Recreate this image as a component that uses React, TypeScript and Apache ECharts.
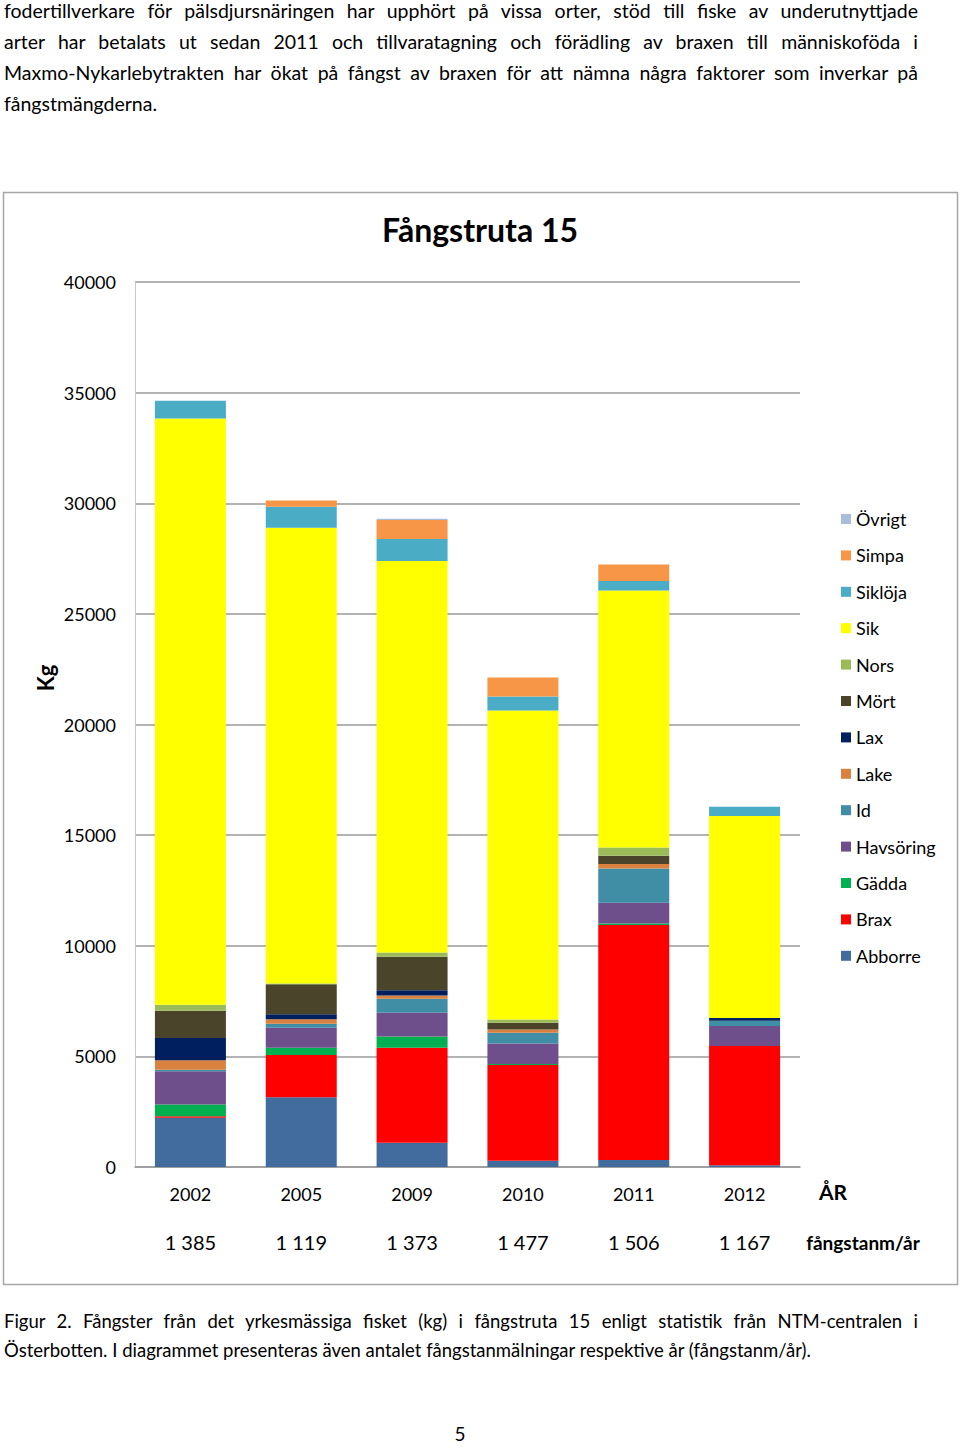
import React, { useEffect, useRef } from "react";
import * as echarts from "echarts";

const years = ["2002", "2005", "2009", "2010", "2011", "2012"];
const reports = ["1 385", "1 119", "1 373", "1 477", "1 506", "1 167"];
const yTicks = { min: 0, max: 40000, interval: 5000 };

const species = ["Abborre", "Brax", "Gädda", "Havsöring", "Id", "Lake", "Lax", "Mört", "Nors", "Sik", "Siklöja", "Simpa", "Övrigt"];
const colors = ["#426C9E", "#FF0000", "#00B050", "#6E4F8B", "#3F8EA6", "#D9813F", "#001F5E", "#4A442B", "#9BBB59", "#FFFF00", "#4BACC6", "#F79646", "#A9BCD9"];

const abborre = [2230, 3150, 1100, 285, 315, 75];
const brax = [60, 1910, 4290, 4325, 10620, 5390];
const gadda = [540, 330, 510, 40, 75, 0];
const havsoring = [1500, 900, 1070, 935, 935, 905];
const id = [60, 180, 630, 480, 1550, 240];
const lake = [430, 210, 150, 150, 195, 0];
const lax = [1010, 225, 240, 0, 0, 120];
const mort = [1235, 1355, 1510, 300, 375, 0];
const nors = [270, 30, 200, 150, 375, 0];
const sik = [26490, 20600, 17690, 13970, 11615, 9130];
const sikloja = [810, 950, 995, 630, 435, 420];
const simpa = [0, 285, 860, 860, 740, 0];
const ovrigt = [0, 0, 60, 0, 0, 0];

const seriesData = [abborre, brax, gadda, havsoring, id, lake, lax, mort, nors, sik, sikloja, simpa, ovrigt];

const paragraph = [
  "fodertillverkare för pälsdjursnäringen har upphört på vissa orter, stöd till fiske av underutnyttjade",
  "arter har betalats ut sedan 2011 och tillvaratagning och förädling av braxen till människoföda i",
  "Maxmo-Nykarlebytrakten har ökat på fångst av braxen för att nämna några faktorer som inverkar på",
  "fångstmängderna.",
];
const caption = [
  "Figur 2. Fångster från det yrkesmässiga fisket (kg) i fångstruta 15 enligt statistik från NTM-centralen i",
  "Österbotten. I diagrammet presenteras även antalet fångstanmälningar respektive år (fångstanm/år).",
];

const FONT = "Lato, 'Open Sans', sans-serif";

export default function App() {
  const ref = useRef<HTMLDivElement>(null);
  useEffect(() => {
    if (!ref.current) return;
    const chart = echarts.init(ref.current, null, { renderer: "svg" });
    chart.setOption({
      animation: false,
      textStyle: { fontFamily: FONT, color: "#000" },
      title: {
        text: "Fångstruta 15",
        left: "center",
        top: 208,
        textStyle: { fontFamily: FONT, fontSize: 32, fontWeight: "bold", color: "#000" },
      },
      legend: {
        orient: "vertical",
        left: 836,
        top: 505,
        icon: "rect",
        itemWidth: 10,
        itemHeight: 10,
        itemGap: 18.4,
        data: species.slice().reverse(),
        textStyle: { fontFamily: FONT, fontSize: 18, color: "#000" },
      },
      grid: { left: 135, top: 282, width: 665, height: 885 },
      xAxis: [
        {
          type: "category",
          data: years,
          axisLine: { lineStyle: { color: "#9a9a9a", width: 1.5 } },
          axisTick: { show: false },
          axisLabel: { margin: 18, fontSize: 18, color: "#000", fontFamily: FONT },
        },
        {
          type: "category",
          data: reports,
          position: "bottom",
          axisLine: { show: false },
          axisTick: { show: false },
          axisLabel: { margin: 65, fontSize: 20, color: "#000", fontFamily: FONT },
        },
      ],
      yAxis: {
        type: "value",
        min: yTicks.min,
        max: yTicks.max,
        interval: yTicks.interval,
        axisLine: { show: true, lineStyle: { color: "#c8c8c8", width: 1 } },
        axisTick: { show: false },
        splitLine: { lineStyle: { color: "#9a9a9a", width: 1.5 } },
        axisLabel: {
          margin: 19,
          fontSize: 18,
          color: "#000",
          fontFamily: FONT,
          formatter: (v: number) => String(v),
        },
      },
      series: species.map((name, i) => ({
        name,
        type: "bar",
        stack: "total",
        barWidth: 71,
        data: seriesData[i],
        itemStyle: { color: colors[i] },
      })),
      graphic: [
        {
          type: "rect",
          shape: { x: 3.5, y: 192.5, width: 954, height: 1092 },
          style: { fill: "none", stroke: "#a6a6a6", lineWidth: 1.5 },
          silent: true,
        },
        {
          type: "text",
          x: 45,
          y: 678,
          rotation: Math.PI / 2,
          style: {
            text: "Kg",
            font: `bold 22px ${FONT}`,
            fill: "#000",
            align: "center",
            verticalAlign: "middle",
          },
        },
        {
          type: "text",
          x: 833,
          y: 1191,
          style: {
            text: "ÅR",
            font: `bold 21px ${FONT}`,
            fill: "#000",
            align: "center",
            verticalAlign: "middle",
          },
        },
        {
          type: "text",
          x: 863,
          y: 1242,
          style: {
            text: "fångstanm/år",
            font: `bold 19px ${FONT}`,
            fill: "#000",
            align: "center",
            verticalAlign: "middle",
          },
        },
      ],
    });
    return () => chart.dispose();
  }, []);

  const lineStyle = (last: boolean): React.CSSProperties => ({
    textAlign: last ? "left" : "justify",
    textAlignLast: last ? "left" : "justify",
    height: 31,
    whiteSpace: "nowrap",
  });

  return (
    <div style={{ position: "absolute", left: 0, top: 0, width: 960, height: 1448, background: "#fff", overflow: "hidden" }}>
      <div ref={ref} style={{ position: "absolute", left: 0, top: 0, width: 960, height: 1448 }} />
      <div style={{ position: "absolute", left: 4, top: -5, width: 914, fontFamily: FONT, fontSize: 19.5, lineHeight: "31px", color: "#000" }}>
        {paragraph.map((l, i) => (
          <div key={i} style={lineStyle(i === paragraph.length - 1)}>{l}</div>
        ))}
      </div>
      <div style={{ position: "absolute", left: 4, top: 1307, width: 914, fontFamily: FONT, fontSize: 18.5, lineHeight: "29px", color: "#000" }}>
        {caption.map((l, i) => (
          <div key={i} style={{ ...lineStyle(i === caption.length - 1), height: 29 }}>{l}</div>
        ))}
      </div>
      <div style={{ position: "absolute", left: 0, top: 1424, width: 920, textAlign: "center", fontFamily: FONT, fontSize: 19, lineHeight: "20px", color: "#000" }}>
        5
      </div>
    </div>
  );
}
